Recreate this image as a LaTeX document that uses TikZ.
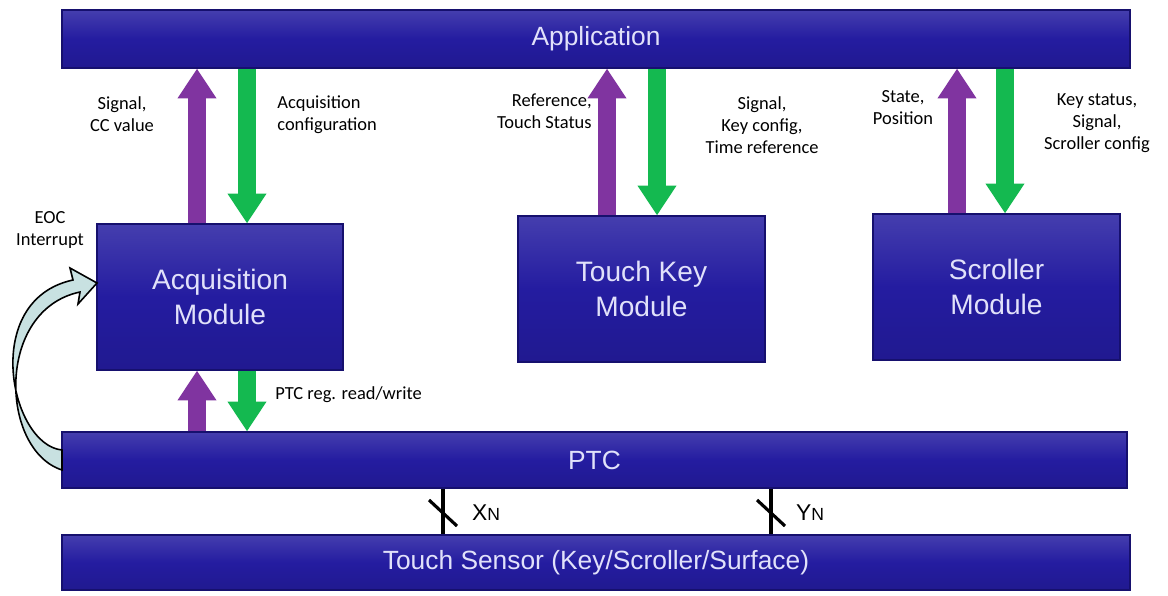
\documentclass[tikz,border=0pt]{standalone}
\usepackage{fontspec}
\setmainfont{Carlito}
\newfontfamily\boxfont{Liberation Sans}
\usetikzlibrary{arrows.meta}
\definecolor{bx}{RGB}{36,28,160}
\definecolor{bxd}{RGB}{22,16,110}
\definecolor{pur}{RGB}{128,52,160}
\definecolor{grn}{RGB}{20,185,80}
\definecolor{txt}{RGB}{225,225,250}
\definecolor{cy}{RGB}{200,225,225}
\begin{document}
\begin{tikzpicture}[x=0.02cm,y=-0.02cm,
 blk/.style={draw=bxd,line width=0.6pt,top color=bx!85!white,bottom color=bx!90!black,middle color=bx,text=txt,font=\boxfont,align=center,inner sep=0pt},
 bar/.style={blk,font=\boxfont\fontsize{15}{18}\selectfont},
 mod/.style={blk,font=\boxfont\fontsize{16}{20}\selectfont},
 up/.style={draw=pur,line width=10pt,-{Triangle[length=17pt,width=21pt]}},
 dn/.style={draw=grn,line width=10pt,-{Triangle[length=17pt,width=21pt]}},
 lab/.style={font=\fontsize{10.5}{12.5}\selectfont,align=center,inner sep=0pt},
 wire/.style={line width=1.8pt,black}]
\useasboundingbox (0,0) rectangle (1168,595);
\node[bar,minimum width=1068*0.02cm,minimum height=58*0.02cm] (app) at (596,39) {Application};
\node[bar,minimum width=1065*0.02cm,minimum height=56*0.02cm] (ptc) at (594.5,460) {PTC};
\node[bar,minimum width=1068*0.02cm,minimum height=55*0.02cm] (ts) at (596,562.5) {Touch Sensor (Key/Scroller/Surface)};
\node[mod,minimum width=246*0.02cm,minimum height=146*0.02cm] (acq) at (220,297) {Acquisition\\Module};
\node[mod,minimum width=247*0.02cm,minimum height=146*0.02cm] (tk) at (641.5,289) {Touch Key\\Module};
\node[mod,minimum width=247*0.02cm,minimum height=146*0.02cm] (sc) at (996.5,287) {Scroller\\Module};
% arrows
\draw[up] (acq.north -| 197,0) -- (app.south -| 197,0);
\draw[dn] (app.south -| 247,0) -- (acq.north -| 247,0);
\draw[up] (tk.north -| 607,0) -- (app.south -| 607,0);
\draw[dn] (app.south -| 657,0) -- (tk.north -| 657,0);
\draw[up] (sc.north -| 957,0) -- (app.south -| 957,0);
\draw[dn] (app.south -| 1005,0) -- (sc.north -| 1005,0);
\draw[up] (ptc.north -| 197,0) -- (acq.south -| 197,0);
\draw[dn] (acq.south -| 247,0) -- (ptc.north -| 247,0);
% labels
\node[lab] (l1) at (122,114) {Signal,\\CC value};
\node[lab,anchor=west,align=left] (l2) at (277,115) {Acquisition\\configuration};
\node[lab,align=right,anchor=east] (l3) at (592,111) {Reference,\\Touch Status};
\node[lab] (l4) at (762,125) {Signal,\\Key config,\\Time reference};
\node[lab] (l5) at (903,108) {State,\\Position};
\node[lab] (l6) at (1097,123) {Key status,\\Signal,\\Scroller config};
\node[lab,anchor=west] (l7) at (275,395) {PTC reg. read/write};
\node[lab] (l8) at (50,230) {EOC\\Interrupt};
% sensor wires
\coordinate (w1) at (443,0); \coordinate (w2) at (771,0);
\draw[wire] (ptc.south -| w1) -- (ts.north -| w1);
\draw[wire] (429,500) -- (457,526);
\draw[wire] (ptc.south -| w2) -- (ts.north -| w2);
\draw[wire] (757,500) -- (785,526);
\node[font=\boxfont\fontsize{13}{15}\selectfont,anchor=west] (xn) at (466,513) {X\fontsize{10}{12}\selectfont N};
\node[font=\boxfont\fontsize{13}{15}\selectfont,anchor=west] (yn) at (790,513) {Y\fontsize{10}{12}\selectfont N};
% EOC curved arrow
\fill[cy,draw=black,line width=0.9pt]
 (62,470) .. controls (0,450) and (-5,310) .. (80,292)
 -- (78,304) -- (97,283) -- (70,268) -- (73,280)
 .. controls (-20,300) and (10,445) .. (62,450) -- cycle;
\end{tikzpicture}
\end{document}
